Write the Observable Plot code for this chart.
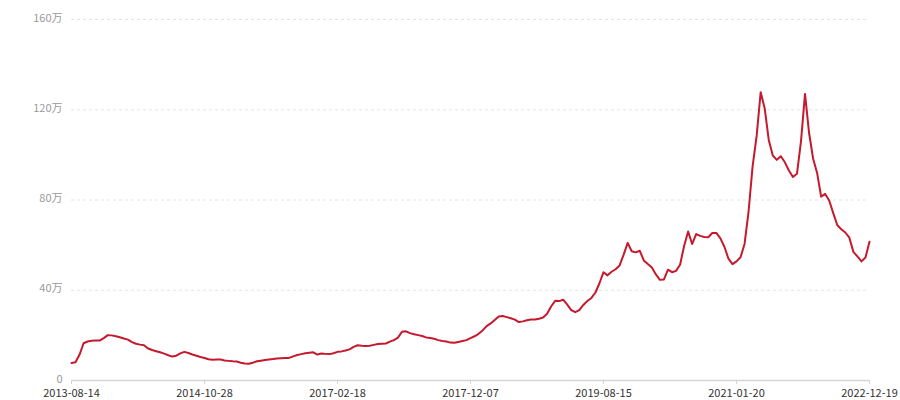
<!DOCTYPE html>
<html>
<head>
<meta charset="utf-8">
<script src="https://cdn.jsdelivr.net/npm/d3@7"></script>
<script src="https://cdn.jsdelivr.net/npm/@observablehq/plot@0.6"></script>
<style>
  html, body { margin: 0; padding: 0; background: #fff; }
  #chart svg { display: block; }
</style>
</head>
<body>
<div id="chart"></div>
<script>
// Values in 万 (10,000), evenly spaced samples along the category axis
const values = [
  7.8, 8.1, 11.5, 16.5, 17.3, 17.6, 17.7, 17.7, 18.8, 20.1,
  20.0, 19.6, 19.2, 18.6, 18.1, 17.0, 16.3, 15.9, 15.6, 14.2,
  13.5, 13.0, 12.5, 11.9, 11.2, 10.6, 11.0, 12.0, 12.7, 12.2,
  11.5, 11.0, 10.4, 10.0, 9.4, 9.2, 9.3, 9.3, 8.9, 8.7,
  8.5, 8.4, 7.9, 7.5, 7.4, 7.9, 8.5, 8.8, 9.1, 9.3,
  9.5, 9.8, 9.9, 10.0, 10.0, 10.7, 11.3, 11.7, 12.1, 12.3,
  12.5, 11.5, 12.0, 11.8, 11.7, 12.1, 12.7, 12.9, 13.3, 13.8,
  14.9, 15.6, 15.4, 15.3, 15.4, 15.8, 16.2, 16.3, 16.4, 17.2,
  17.9, 19.0, 21.6, 21.8, 21.0, 20.5, 20.1, 19.7, 19.1, 18.8,
  18.5, 17.9, 17.5, 17.3, 16.8, 16.7, 17.1, 17.5, 17.9, 18.8,
  19.6, 20.7, 22.2, 24.1, 25.3, 26.8, 28.4, 28.6, 28.1, 27.6,
  27.0, 25.9, 26.2, 26.7, 27.0, 27.0, 27.4, 27.9, 29.6, 32.8,
  35.3, 35.2, 35.8, 33.6, 31.2, 30.3, 31.2, 33.5, 35.2, 36.6,
  39.0, 43.1, 48.0, 46.6, 48.2, 49.3, 51.0, 55.8, 61.0, 57.3,
  56.8, 57.5, 53.2, 51.6, 50.1, 47.0, 44.6, 44.8, 49.1, 48.0,
  48.6, 51.3, 59.6, 66.0, 60.5, 64.9, 64.1, 63.6, 63.5, 65.4,
  65.4, 63.0, 59.3, 54.0, 51.6, 52.8, 54.6, 60.5, 75.0, 95.0,
  108.4, 127.8, 120.6, 106.6, 99.7, 97.8, 99.4, 96.7, 93.1, 90.2,
  91.6, 106.0, 127.0, 109.8, 98.4, 92.0, 81.5, 82.7, 79.8, 74.2,
  68.9, 67.0, 65.6, 63.3, 57.0, 55.0, 52.8, 54.5, 61.5
];

// Category-axis tick labels and the sample index they sit on
const xLabels = ["2013-08-14", "2014-10-28", "2017-02-18", "2017-12-07", "2019-08-15", "2021-01-20", "2022-12-19"];
const xTickIndex = [0, 33, 66, 99, 132, 165, 198];

// Value-axis ticks (万)
const yTicks = [0, 40, 80, 120, 160];

const data = values.map((v, i) => ({i, v}));

const chart = Plot.plot({
  width: 900,
  height: 400,
  marginLeft: 71,
  marginRight: 31,
  marginTop: 19,
  marginBottom: 20,
  style: {fontFamily: "'Noto Sans CJK SC', 'Noto Sans', sans-serif", fontSize: "11px", background: "#fff"},
  x: {domain: [0, values.length - 1]},
  y: {domain: [0, 160]},
  marks: [
    Plot.gridY(yTicks.filter(d => d > 0), {stroke: "#e4e4e4", strokeOpacity: 1, strokeDasharray: "3,3"}),
    Plot.ruleY([0], {stroke: "#d6d6d6", strokeWidth: 1.5}),
    Plot.axisY(yTicks, {tickSize: 0, tickPadding: 9, dy: -1.5, fill: "#9a9a9a", tickFormat: d => d === 0 ? "0" : d + "万", label: null}),
    Plot.axisX(xTickIndex, {tickSize: 4, tickPadding: 5, stroke: "#d6d6d6", fill: "#333", tickFormat: (d) => xLabels[xTickIndex.indexOf(d)], label: null}),
    Plot.lineY(data, {x: "i", y: "v", stroke: "#c5192d", strokeWidth: 2})
  ]
});
document.getElementById("chart").appendChild(chart);
</script>
</body>
</html>
